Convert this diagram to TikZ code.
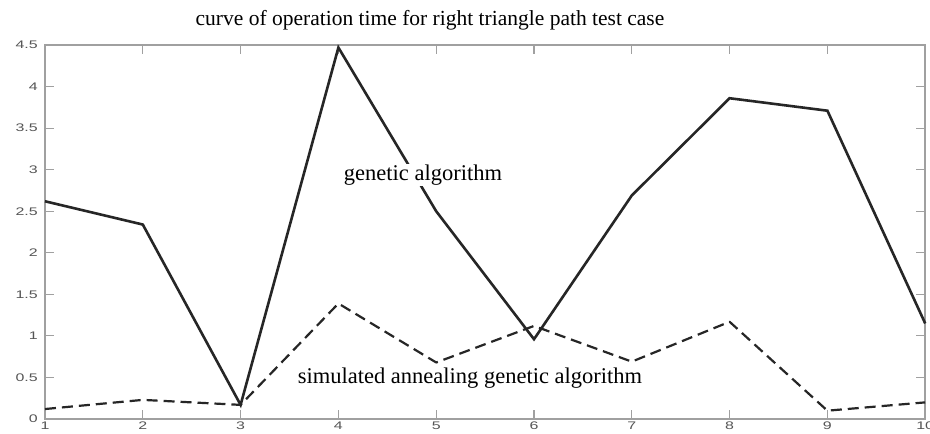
\documentclass[tikz,border=0pt]{standalone}
\usepackage{fontspec}
\setmainfont{Liberation Serif}
\newfontfamily\tickfont{Liberation Sans}
\definecolor{axisgray}{HTML}{A0A0A0}
\definecolor{ticktext}{HTML}{555555}
\definecolor{curveink}{HTML}{262626}
\tikzset{
  axisline/.style={draw=axisgray, line width=1.6pt},
  tickmark/.style={draw=axisgray, line width=1.2pt},
  ticklabel/.style={font=\tickfont\fontsize{11}{11}\selectfont, text=ticktext, inner sep=0pt, xscale=1.45, transform shape},
  gacurve/.style={draw=curveink, line width=2.6pt, line join=miter},
  sacurve/.style={draw=curveink, line width=2.2pt, dash pattern=on 11pt off 6pt, line join=round},
  titlelabel/.style={font=\fontsize{21.5}{21.5}\selectfont, inner sep=0pt},
  plotlabel/.style={font=\fontsize{22.5}{22.5}\selectfont, fill=white, inner sep=1pt}
}
\begin{document}
\begin{tikzpicture}[x=1pt,y=1pt]
\useasboundingbox (0,0) rectangle (930,434);
\fill[white] (0,0) rectangle (930,434);

% plot area: x from 1 to 10, y from 0 to 4.5
\begin{scope}[shift={(45,15)}, x=97.8pt, y=83.1pt]
  % axes box corners
  \coordinate (bl) at (0,0);
  \coordinate (br) at (9,0);
  \coordinate (tl) at (0,4.5);
  \coordinate (tr) at (9,4.5);

  % ticks on all four sides
  \foreach \i in {1,...,10} {
    \coordinate (xb\i) at ({\i-1},0);
    \coordinate (xt\i) at ({\i-1},4.5);
    \draw[tickmark] (xb\i) -- ++(0,9pt);
    \draw[tickmark] (xt\i) -- ++(0,-9pt);
    \node[ticklabel, anchor=north] (xl\i) at ([yshift=-3pt]xb\i) {\i};
  }
  \foreach \k/\v/\t in {0/0/0,1/0.5/0.5,2/1/1,3/1.5/1.5,4/2/2,5/2.5/2.5,6/3/3,7/3.5/3.5,8/4/4,9/4.5/4.5} {
    \coordinate (yl\k) at (0,\v);
    \coordinate (yr\k) at (9,\v);
    \draw[tickmark] (yl\k) -- ++(9pt,0);
    \draw[tickmark] (yr\k) -- ++(-9pt,0);
    \node[ticklabel, anchor=east] (ylab\k) at ([xshift=-7pt]yl\k) {\t};
  }
  \draw[axisline] (bl) -- (br) -- (tr) -- (tl) -- cycle;

  % genetic algorithm
  \foreach \i/\v in {1/2.62,2/2.34,3/0.17,4/4.47,5/2.5,6/0.96,7/2.69,8/3.86,9/3.71,10/1.15}
    \coordinate (g\i) at ({\i-1},\v);
  \draw[gacurve] (g1) -- (g2) -- (g3) -- (g4) -- (g5) -- (g6) -- (g7) -- (g8) -- (g9) -- (g10);

  % simulated annealing genetic algorithm
  \foreach \i/\v in {1/0.12,2/0.23,3/0.17,4/1.39,5/0.68,6/1.12,7/0.69,8/1.17,9/0.1,10/0.2}
    \coordinate (s\i) at ({\i-1},\v);
  \draw[sacurve] (s1) -- (s2) -- (s3) -- (s4) -- (s5) -- (s6) -- (s7) -- (s8) -- (s9) -- (s10);
\end{scope}

\node[titlelabel] (title) at (430,414) {curve of operation time for right triangle path test case};
\node[plotlabel] (galabel) at (423,259) {genetic algorithm};
\node[plotlabel] (salabel) at (470,56) {simulated annealing genetic algorithm};
\end{tikzpicture}
\end{document}
